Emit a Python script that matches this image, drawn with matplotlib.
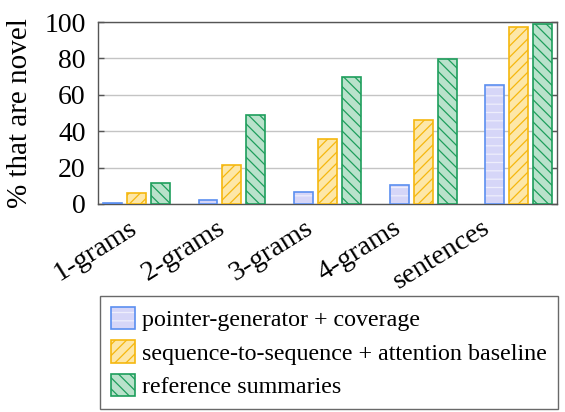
import numpy as np
import matplotlib
matplotlib.use("Agg")
import matplotlib.pyplot as plt
from matplotlib.transforms import ScaledTranslation

plt.rcParams['font.family'] = ['Liberation Serif', 'DejaVu Serif']
plt.rcParams['hatch.linewidth'] = 0.9

categories = ["1-grams", "2-grams", "3-grams", "4-grams", "sentences"]
pointer_gen = [0.3, 2.4, 6.4, 10.4, 65.3]
seq2seq = [5.9, 21.2, 35.5, 46.0, 97.4]
reference = [11.4, 48.9, 69.9, 79.9, 98.9]
labels = ["pointer-generator + coverage",
          "sequence-to-sequence + attention baseline",
          "reference summaries"]

fig = plt.figure(figsize=(5.65, 4.12), dpi=100)
ax = fig.add_axes([0.1735, 0.505, 0.8125, 0.4415])

x = np.arange(len(categories))
w = 0.198
off = 0.25

b1 = ax.bar(x - off, pointer_gen, w, facecolor='#d6d6f8', edgecolor='#5b8ff0',
            linewidth=1.2, hatch='--', label=labels[0], zorder=3)
b2 = ax.bar(x, seq2seq, w, facecolor='#fde7a8', edgecolor='#f5b70f',
            linewidth=1.2, hatch='///', label=labels[1], zorder=3)
b3 = ax.bar(x + off, reference, w, facecolor='#b9e2cb', edgecolor='#1e9e5c',
            linewidth=1.2, hatch='\\\\\\', label=labels[2], zorder=3)
# per-bar hatch colours
for bars, hc in [(b1, '#eeeefc'), (b2, '#f5b70f'), (b3, '#1e9e5c')]:
    for p in bars:
        p._hatch_color = matplotlib.colors.to_rgba(hc)

ax.set_xlim(-0.4, 4.4)
ax.set_ylim(0, 100)
ax.set_yticks([0, 20, 40, 60, 80, 100])
ax.yaxis.grid(True, color='#c4c4c4', linewidth=1.0, zorder=0)
ax.set_axisbelow(True)
ax.tick_params(axis='y', direction='in', length=4, width=1, colors='#555555',
               labelcolor='black', labelsize=20, right=True, pad=9)
ax.tick_params(axis='x', length=0, labelsize=20.5, pad=6)
ax.set_xticks(x)
ax.set_xticklabels(categories, rotation=32, ha='right', rotation_mode='anchor')
for i, t in enumerate(ax.get_xticklabels()):
    dx = (-8 - 7.5 * i) / 100.0
    t.set_transform(t.get_transform() + ScaledTranslation(dx, -0.03, fig.dpi_scale_trans))
for s in ax.spines.values():
    s.set_color('#555555')
    s.set_linewidth(1.0)
ax.set_ylabel("% that are novel", fontsize=21, labelpad=8)

leg = fig.legend(handles=[b1, b2, b3], labels=labels, loc='upper left',
                 bbox_to_anchor=(0.177, 0.2816), fontsize=17.3,
                 frameon=True, fancybox=False, edgecolor='#444444',
                 handlelength=1.0, handleheight=1.05, handletextpad=0.3,
                 labelspacing=0.38, borderpad=0.45, borderaxespad=0)
leg.get_frame().set_linewidth(1.0)

fig.savefig("out.png", dpi=100)
